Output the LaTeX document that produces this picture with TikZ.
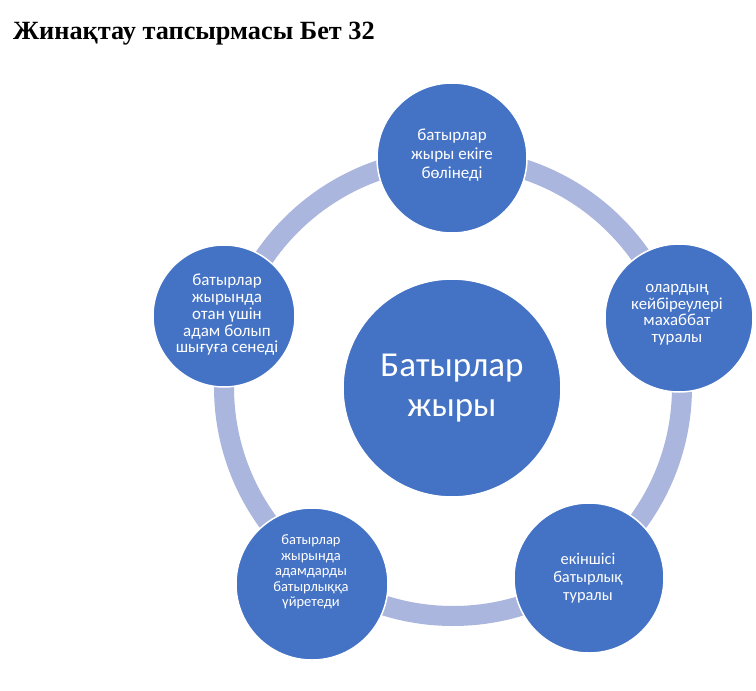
\documentclass[tikz,border=0pt]{standalone}
\usepackage{fontspec}
\setmainfont{Liberation Serif}
\newfontfamily\calfont{Carlito}
\definecolor{nodeblue}{RGB}{68,114,196}
\definecolor{ringblue}{RGB}{170,182,221}
\begin{document}
\begin{tikzpicture}[x=1pt,y=-1pt,
  bub/.style={circle, fill=nodeblue, draw=white, line width=1.5pt, inner sep=0pt},
  txt/.style={text=white, align=center, inner sep=0pt},
  ring/.style={draw=ringblue, line width=20pt}]
\useasboundingbox (0,0) rectangle (756,691);
\fill[white] (0,0) rectangle (756,691);
\node[anchor=base west, inner sep=0pt, font=\bfseries\fontsize{26.3}{30}\selectfont] (title) at (13,39) {Жинақтау тапсырмасы Бет 32};
\coordinate (rc) at (453,387);
\draw[ring] (rc) circle[radius=229pt];
\node[bub, minimum size=218pt] (centre) at (452,388) {};
\node[bub, minimum size=150pt] (top) at (452,158) {};
\node[bub, minimum size=148pt] (right) at (679,318) {};
\node[bub, minimum size=142pt] (left) at (224,316) {};
\node[bub, minimum size=152pt] (bl) at (312,584) {};
\node[bub, minimum size=150pt] (br) at (589,578) {};
\node[txt, font=\calfont\fontsize{35}{40}\selectfont] (tcentre) at (centre.center) {Батырлар\\жыры};
\node[txt, font=\calfont\fontsize{17}{19}\selectfont] (ttop) at (452,155) {батырлар\\жыры екіге\\бөлінеді};
\node[txt, font=\calfont\fontsize{16.8}{16.5}\selectfont] (tright) at (677,315) {олардың\\кейбіреулері\\махаббат\\туралы};
\node[txt, font=\calfont\fontsize{17}{16.7}\selectfont] (tleft) at (227,315) {батырлар\\жырында\\отан үшін\\адам болып\\шығуға сенеді};
\node[txt, font=\calfont\fontsize{14.5}{15.5}\selectfont] (tbl) at (311,572) {батырлар\\жырында\\адамдарды\\батырлыққа\\үйретеди};
\node[txt, font=\calfont\fontsize{16.4}{18}\selectfont] (tbr) at (588,578) {екіншісі\\батырлық\\туралы};
\end{tikzpicture}
\end{document}
